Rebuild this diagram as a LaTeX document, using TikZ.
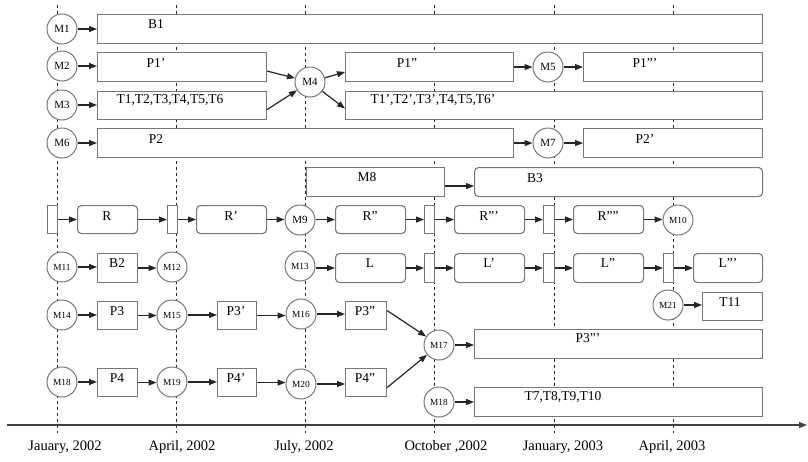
\documentclass[tikz,border=0pt]{standalone}
\usepackage{fontspec}
\setmainfont{Liberation Serif}
\usetikzlibrary{arrows.meta}
\definecolor{boxgray}{RGB}{120,120,120}
\begin{document}
\begin{tikzpicture}[x=1pt,y=-1pt,
  box/.style={draw=boxgray, line width=1.1pt, fill=white, inner sep=0pt, anchor=north west},
  rbox/.style={box, rounded corners=4pt},
  lbl/.style={inner sep=0pt, font=\fontsize{13.5}{15}\selectfont},
  mc/.style={circle, draw=boxgray, line width=1pt, fill=white, minimum size=30, inner sep=0pt, font=\fontsize{11}{12}\selectfont},
  mcs/.style={mc, font=\fontsize{9.3}{10}\selectfont},
  arr/.style={draw=black!85, line width=1.2pt, -{Triangle[length=8pt,width=6pt]}},
  dline/.style={draw=black!85, line width=0.9pt, dash pattern=on 3pt off 3pt},
  axlbl/.style={inner sep=0pt, font=\fontsize{14.5}{16}\selectfont}
]
\useasboundingbox (0,0) rectangle (808,461);

% time grid
\foreach \xx/\nm in {57/ga,176/gb,305/gc,434/gd,554/ge,673/gf}{
  \coordinate (\nm top) at (\xx,5);
  \coordinate (\nm bot) at (\xx,433);
  \draw[dline] (\nm top) -- (\nm bot);
}

% axis
\coordinate (axs) at (7,425);
\coordinate (axe) at (807,425);
\draw[draw=black!75, line width=1.2pt, -{Triangle[length=8pt,width=6pt]}] (axs) -- (axe);
\node[axlbl] (d1) at (65,447) {Jauary, 2002};
\node[axlbl] (d2) at (182,447) {April, 2002};
\node[axlbl] (d3) at (304,447) {July, 2002};
\node[axlbl] (d4) at (446,447) {October ,2002};
\node[axlbl] (d5) at (563,447) {January, 2003};
\node[axlbl] (d6) at (672,447) {April, 2003};

% rows 1-4
\node[box, minimum width=665, minimum height=29] (b1) at (97,14) {};
\node[lbl] (tb1) at (156,24) {B1};
\node[box, minimum width=169, minimum height=29] (p1a) at (97,52) {};
\node[lbl] (tp1a) at (156,63) {P1'};
\node[box, minimum width=169, minimum height=28] (ta) at (97,91) {};
\node[lbl] (tta) at (170,100) {T1,T2,T3,T4,T5,T6};
\node[box, minimum width=168, minimum height=29] (p1b) at (345,52) {};
\node[lbl] (tp1b) at (407,63) {P1''};
\node[box, minimum width=417, minimum height=28] (tb) at (345,91) {};
\node[lbl] (ttb) at (433,100) {T1',T2',T3',T4,T5,T6'};
\node[box, minimum width=179, minimum height=29] (p1c) at (583,52) {};
\node[lbl] (tp1c) at (645,63) {P1'''};
\node[box, minimum width=416, minimum height=29] (p2) at (97,128) {};
\node[lbl] (tp2) at (156,139) {P2};
\node[box, minimum width=179, minimum height=29] (p2b) at (583,128) {};
\node[lbl] (tp2b) at (645,139) {P2'};

\node[mc] (m1) at (62,29) {M1};
\node[mc] (m2) at (62,66) {M2};
\node[mc] (m3) at (62,105) {M3};
\node[mc] (m6) at (62,143) {M6};
\node[mc] (m4) at (310,82) {M4};
\node[mc] (m5) at (548,67) {M5};
\node[mc] (m7) at (548,143) {M7};

% row 5
\node[box, minimum width=138, minimum height=29] (m8) at (306,167) {};
\node[lbl] (tm8) at (367,177) {M8};
\node[rbox, minimum width=288, minimum height=29] (b3) at (474,167) {};
\node[lbl] (tb3) at (535,178) {B3};

% row R
\node[box, minimum width=10, minimum height=28] (sr1) at (47,205) {};
\node[rbox, minimum width=60, minimum height=28] (r1) at (77,205) {};
\node[lbl] (tr1) at (107,216) {R};
\node[box, minimum width=10, minimum height=28] (sr2) at (167,205) {};
\node[rbox, minimum width=70, minimum height=28] (r2) at (196,205) {};
\node[lbl] (tr2) at (231,216) {R'};
\node[mc] (m9) at (300,220) {M9};
\node[rbox, minimum width=70, minimum height=28] (r3) at (335,205) {};
\node[lbl] (tr3) at (370,216) {R''};
\node[box, minimum width=10, minimum height=28] (sr3) at (424,205) {};
\node[rbox, minimum width=70, minimum height=28] (r4) at (454,205) {};
\node[lbl] (tr4) at (489,216) {R'''};
\node[box, minimum width=11, minimum height=28] (sr4) at (543,205) {};
\node[rbox, minimum width=70, minimum height=28] (r5) at (573,205) {};
\node[lbl] (tr5) at (608,216) {R''''};
\node[mcs] (m10) at (678,220) {M10};

% row L
\node[mcs] (m11) at (62,267) {M11};
\node[box, minimum width=40, minimum height=29] (b2) at (97,253) {};
\node[lbl] (tb2) at (117,263) {B2};
\node[mcs] (m12) at (172,267) {M12};
\node[mcs] (m13) at (300,266) {M13};
\node[rbox, minimum width=70, minimum height=29] (l1) at (335,253) {};
\node[lbl] (tl1) at (370,263) {L};
\node[box, minimum width=10, minimum height=29] (sl1) at (424,253) {};
\node[rbox, minimum width=70, minimum height=29] (l2) at (454,253) {};
\node[lbl] (tl2) at (489,263) {L'};
\node[box, minimum width=11, minimum height=29] (sl2) at (543,253) {};
\node[rbox, minimum width=70, minimum height=29] (l3) at (573,253) {};
\node[lbl] (tl3) at (608,263) {L''};
\node[box, minimum width=10, minimum height=29] (sl3) at (663,253) {};
\node[rbox, minimum width=69, minimum height=29] (l4) at (693,253) {};
\node[lbl] (tl4) at (728,263) {L'''};

% T11
\node[mcs] (m21) at (668,305) {M21};
\node[box, minimum width=60, minimum height=28] (t11) at (702,292) {};
\node[lbl] (tt11) at (730,302) {T11};

% row P3
\node[mcs] (m14) at (62,315) {M14};
\node[box, minimum width=40, minimum height=28] (p3) at (97,301) {};
\node[lbl] (tp3) at (117,311) {P3};
\node[mcs] (m15) at (172,315) {M15};
\node[box, minimum width=39, minimum height=28] (p3b) at (217,301) {};
\node[lbl] (tp3b) at (236,311) {P3'};
\node[mcs] (m16) at (301,314) {M16};
\node[box, minimum width=41, minimum height=28] (p3c) at (345,301) {};
\node[lbl] (tp3c) at (365,311) {P3''};

% M17
\node[mcs] (m17) at (439,345) {M17};
\node[box, minimum width=288, minimum height=29] (p3d) at (474,329) {};
\node[lbl] (tp3d) at (588,338) {P3'''};

% row P4
\node[mcs] (m18) at (62,382) {M18};
\node[box, minimum width=40, minimum height=28] (p4) at (97,368) {};
\node[lbl] (tp4) at (117,378) {P4};
\node[mcs] (m19) at (172,382) {M19};
\node[box, minimum width=39, minimum height=28] (p4b) at (217,368) {};
\node[lbl] (tp4b) at (236,378) {P4'};
\node[mcs] (m20) at (301,384) {M20};
\node[box, minimum width=41, minimum height=28] (p4c) at (345,368) {};
\node[lbl] (tp4c) at (365,378) {P4''};

% M18 second
\node[mcs] (m18b) at (439,402) {M18};
\node[box, minimum width=288, minimum height=29] (t7) at (474,387) {};
\node[lbl] (tt7) at (563,397) {T7,T8,T9,T10};

% connectors
\draw[arr] (m1.east) -- (b1.west |- m1.east);
\draw[arr] (m2.east) -- (p1a.west |- m2.east);
\draw[arr] (m3.east) -- (ta.west |- m3.east);
\draw[arr] (m6.east) -- (p2.west |- m6.east);
\draw[arr] ([yshift=-4]p1a.east) -- (m4);
\draw[arr] ([yshift=-4]ta.east) -- (m4);
\draw[arr] (m4) -- ([yshift=-5]p1b.west);
\draw[arr] (m4) -- ([yshift=-3]tb.west);
\draw[arr] (p1b.east) -- (m5.west |- p1b.east);
\draw[arr] (m5.east |- p1c.west) -- (p1c.west);
\draw[arr] (p2.east) -- (m7.west |- p2.east);
\draw[arr] (m7.east |- p2b.west) -- (p2b.west);
\draw[arr] ([yshift=-4]m8.east) -- ([yshift=-4]b3.west);

\draw[arr] (sr1.east) -- (r1.west);
\draw[arr] (r1.east) -- (sr2.west);
\draw[arr] (sr2.east) -- (r2.west);
\draw[arr] (r2.east) -- (m9.west |- r2.east);
\draw[arr] (m9.east |- r3.west) -- (r3.west);
\draw[arr] (r3.east) -- (sr3.west);
\draw[arr] (sr3.east) -- (r4.west);
\draw[arr] (r4.east) -- (sr4.west);
\draw[arr] (sr4.east) -- (r5.west);
\draw[arr] (r5.east) -- (m10.west |- r5.east);

\draw[arr] (m11.east) -- (b2.west |- m11.east);
\draw[arr] (b2.east) -- (m12.west |- b2.east);
\draw[arr] (m13.east |- l1.west) -- (l1.west);
\draw[arr] (l1.east) -- (sl1.west);
\draw[arr] (sl1.east) -- (l2.west);
\draw[arr] (l2.east) -- (sl2.west);
\draw[arr] (sl2.east) -- (l3.west);
\draw[arr] (l3.east) -- (sl3.west);
\draw[arr] (sl3.east) -- (l4.west);

\draw[arr] (m21.east) -- (t11.west |- m21.east);

\draw[arr] (m14.east) -- (p3.west |- m14.east);
\draw[arr] (p3.east) -- (m15.west |- p3.east);
\draw[arr] (m15.east) -- (p3b.west |- m15.east);
\draw[arr] (p3b.east) -- (m16.west |- p3b.east);
\draw[arr] (m16.east) -- (p3c.west |- m16.east);
\draw[arr] ([yshift=5]p3c.east) -- (m17);

\draw[arr] (m18.east) -- (p4.west |- m18.east);
\draw[arr] (p4.east) -- (m19.west |- p4.east);
\draw[arr] (m19.east) -- (p4b.west |- m19.east);
\draw[arr] (p4b.east) -- (m20.west |- p4b.east);
\draw[arr] (m20.east) -- (p4c.west |- m20.east);
\draw[arr] ([yshift=-5]p4c.east) -- (m17);

\draw[arr] (m17.east) -- (p3d.west |- m17.east);
\draw[arr] (m18b.east) -- (t7.west |- m18b.east);
\end{tikzpicture}
\end{document}
